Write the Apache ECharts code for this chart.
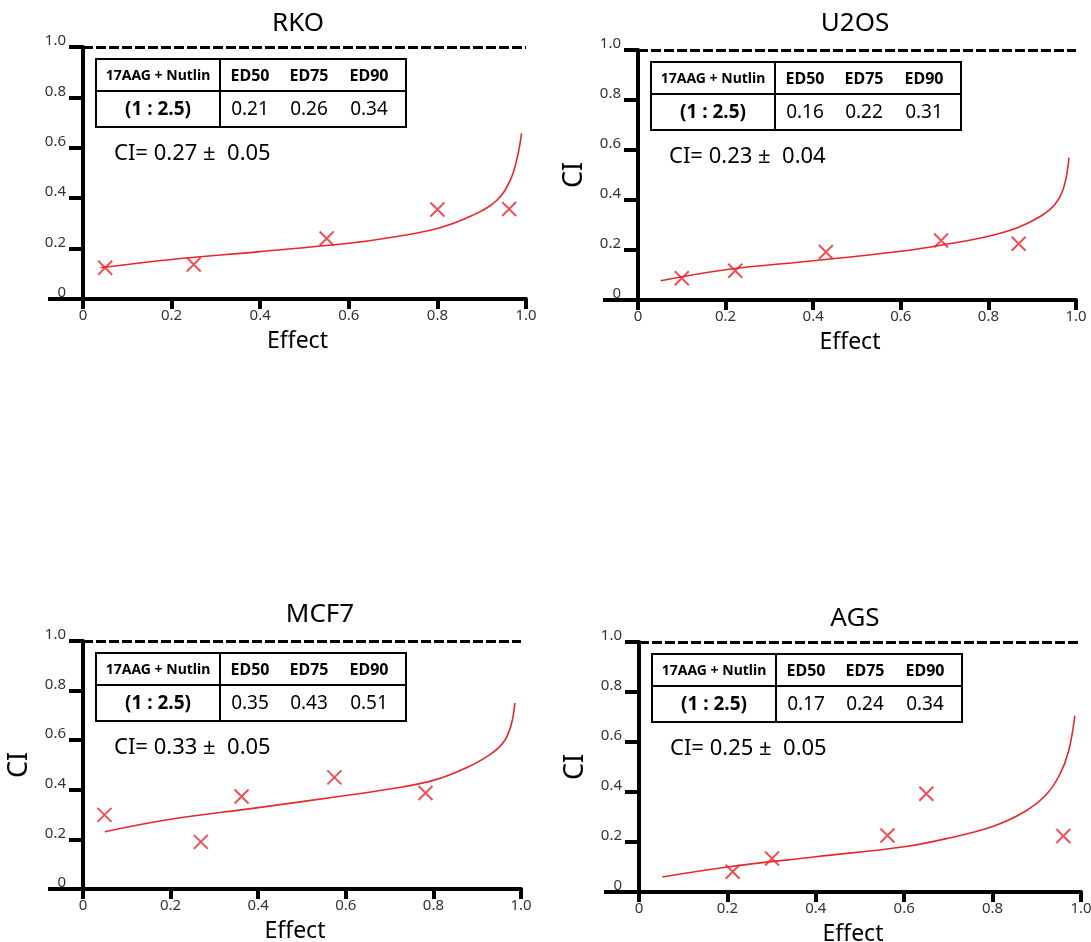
<!DOCTYPE html>
<html>
<head>
<meta charset="utf-8">
<script src="https://cdn.jsdelivr.net/npm/echarts@6/dist/echarts.min.js"></script>
<style>html,body{margin:0;padding:0;background:#fff}#c{width:1091px;height:942px}</style>
</head>
<body>
<div id="c"></div>
<script>
// ---------- data ----------
const panelNames = ['RKO', 'U2OS', 'MCF7', 'AGS'];
const showCILabel = [false, true, true, true];
const tableHeader = ['17AAG + Nutlin', 'ED50', 'ED75', 'ED90'];
const ratioLabel = '(1 : 2.5)';
const ed50 = ['0.21', '0.16', '0.35', '0.17'];
const ed75 = ['0.26', '0.22', '0.43', '0.24'];
const ed90 = ['0.34', '0.31', '0.51', '0.34'];
const ciMean = ['0.27', '0.23', '0.33', '0.25'];
const ciSd = ['0.05', '0.04', '0.05', '0.05'];
const xTicks = [0, 0.2, 0.4, 0.6, 0.8, 1.0];
const refCI = 1.0;

const rkoPtsX = [0.05, 0.25, 0.55, 0.80, 0.962];
const rkoPtsY = [0.124, 0.137, 0.24, 0.355, 0.357];
const rkoCurveX = [0.04, 0.2, 0.4, 0.6, 0.68, 0.8, 0.877, 0.933, 0.964, 0.98, 0.99];
const rkoCurveY = [0.124, 0.157, 0.188, 0.221, 0.24, 0.28, 0.33, 0.39, 0.47, 0.56, 0.657];

const u2osPtsX = [0.10, 0.222, 0.429, 0.692, 0.869];
const u2osPtsY = [0.087, 0.117, 0.192, 0.238, 0.225];
const u2osCurveX = [0.052, 0.2, 0.4, 0.6, 0.697, 0.8, 0.866, 0.92, 0.952, 0.972, 0.984];
const u2osCurveY = [0.077, 0.121, 0.157, 0.195, 0.221, 0.255, 0.289, 0.336, 0.383, 0.45, 0.57];

const mcf7PtsX = [0.049, 0.269, 0.362, 0.574, 0.782];
const mcf7PtsY = [0.299, 0.19, 0.373, 0.45, 0.387];
const mcf7CurveX = [0.05, 0.2, 0.4, 0.6, 0.7, 0.8, 0.874, 0.93, 0.962, 0.978, 0.986];
const mcf7CurveY = [0.231, 0.281, 0.328, 0.377, 0.403, 0.438, 0.488, 0.543, 0.597, 0.665, 0.75];

const agsPtsX = [0.212, 0.301, 0.562, 0.65, 0.96];
const agsPtsY = [0.081, 0.134, 0.226, 0.393, 0.224];
const agsCurveX = [0.053, 0.2, 0.4, 0.6, 0.699, 0.8, 0.873, 0.921, 0.952, 0.972, 0.986];
const agsCurveY = [0.06, 0.1, 0.141, 0.181, 0.215, 0.262, 0.322, 0.389, 0.47, 0.564, 0.705];

const ptsX = [rkoPtsX, u2osPtsX, mcf7PtsX, agsPtsX];
const ptsY = [rkoPtsY, u2osPtsY, mcf7PtsY, agsPtsY];
const curveX = [rkoCurveX, u2osCurveX, mcf7CurveX, agsCurveX];
const curveY = [rkoCurveY, u2osCurveY, mcf7CurveY, agsCurveY];

// ---------- layout ----------
const layout = [
  {x0: 83, x1: 526, top: 47, bottom: 299, titleX: 298, titleY: 24},
  {x0: 638, x1: 1076, top: 50, bottom: 300, titleX: 855, titleY: 24},
  {x0: 83, x1: 521, top: 641, bottom: 889, titleX: 320, titleY: 615},
  {x0: 639, x1: 1081, top: 642, bottom: 892, titleX: 855, titleY: 619}
];
const RED = '#e8262b';
const FAMILY = 'Noto Sans';
const FONT = '"Noto Sans", sans-serif';
const crossPath = 'path://M0,0 L20,20 M20,0 L0,20';

const zip = (a, b) => a.map((v, i) => [v, b[i]]);
const fmt = v => (v === 0 ? '0' : v.toFixed(1));

const grids = [], xAxes = [], yAxes = [], series = [], graphics = [];

layout.forEach((L, i) => {
  grids.push({left: L.x0, width: L.x1 - L.x0, top: L.top, height: L.bottom - L.top,
    containLabel: false, outerBoundsMode: 'none'});
  xAxes.push({
    type: 'value', gridIndex: i, min: 0, max: 1, interval: 0.2,
    axisLine: {show: true, onZero: false, lineStyle: {color: '#000', width: 4}},
    axisTick: {show: true, length: 10, lineStyle: {color: '#000', width: 4}},
    axisLabel: {show: true, margin: 9, color: '#333', fontSize: 15, fontFamily: FAMILY, formatter: fmt},
    splitLine: {show: false}
  });
  // main y axis
  yAxes.push({
    type: 'value', gridIndex: i, min: 0, max: 1, interval: 0.2,
    name: showCILabel[i] ? 'CI' : '', nameLocation: 'middle', nameGap: 50, nameRotate: 90,
    nameTextStyle: {fontSize: 27, color: '#000', fontFamily: FAMILY},
    axisLine: {show: true, onZero: false, lineStyle: {color: '#000', width: 4}},
    axisTick: {show: true, length: 14, lineStyle: {color: '#000', width: 4}},
    axisLabel: {show: true, margin: 17, color: '#333', fontSize: 15, fontFamily: FAMILY,
      verticalAlign: 'bottom', lineHeight: 12, formatter: fmt},
    splitLine: {show: false}
  });
  // helper y axis: long tick at 0 extends the x axis line to the left
  yAxes.push({
    type: 'value', gridIndex: i, min: 0, max: 1, position: 'left',
    axisLine: {show: false, onZero: false},
    axisTick: {show: true, customValues: [0], length: 35, lineStyle: {color: '#000', width: 4}},
    axisLabel: {show: false},
    splitLine: {show: false}
  });
  series.push({
    type: 'line', xAxisIndex: i, yAxisIndex: 2 * i, data: zip(curveX[i], curveY[i]),
    smooth: 0.4, showSymbol: false, symbol: 'none',
    lineStyle: {color: RED, width: 1.6},
    markLine: {
      silent: true, symbol: 'none', label: {show: false},
      lineStyle: {color: '#000', width: 3, type: [10, 3]},
      data: [[{coord: [0, refCI]}, {coord: [1, refCI]}]]
    },
    z: 3
  });
  series.push({
    type: 'scatter', xAxisIndex: i, yAxisIndex: 2 * i, data: zip(ptsX[i], ptsY[i]),
    symbol: crossPath, symbolSize: 14,
    itemStyle: {color: 'transparent', borderColor: RED, borderWidth: 2},
    z: 4
  });

  // title
  graphics.push({type: 'text', x: L.titleX, y: L.titleY,
    style: {text: panelNames[i], fill: '#000', font: '26px ' + FONT, align: 'center', verticalAlign: 'middle',
      textAlign: 'center', textVerticalAlign: 'middle'}});
  // Effect label
  graphics.push({type: 'text', x: (L.x0 + L.x1) / 2 - 7, y: L.bottom + 42,
    style: {text: 'Effect', fill: '#000', font: '23px ' + FONT, align: 'center', verticalAlign: 'middle',
      textAlign: 'center', textVerticalAlign: 'middle'}});

  // table
  const tx = L.x0 + 13, ty = L.top + 12, tw = 310, r1 = 32, r2 = 36, dv = 124;
  graphics.push({type: 'rect', shape: {x: tx, y: ty, width: tw, height: r1 + r2},
    style: {fill: 'none', stroke: '#000', lineWidth: 2}});
  graphics.push({type: 'line', shape: {x1: tx, y1: ty + r1, x2: tx + tw, y2: ty + r1},
    style: {stroke: '#000', lineWidth: 2}});
  graphics.push({type: 'line', shape: {x1: tx + dv, y1: ty, x2: tx + dv, y2: ty + r1 + r2},
    style: {stroke: '#000', lineWidth: 2}});
  const colX = [62, 154, 213, 273];
  const row1 = [tableHeader[0], tableHeader[1], tableHeader[2], tableHeader[3]];
  const row2 = [ratioLabel, ed50[i], ed75[i], ed90[i]];
  row1.forEach((t, k) => {
    graphics.push({type: 'text', x: tx + colX[k], y: ty + r1 / 2 + 1,
      style: {text: t, fill: '#000', font: 'bold ' + (k === 0 ? 14 : 16) + 'px ' + FONT,
        align: 'center', verticalAlign: 'middle', textAlign: 'center', textVerticalAlign: 'middle'}});
  });
  row2.forEach((t, k) => {
    graphics.push({type: 'text', x: tx + colX[k], y: ty + r1 + r2 / 2 + 1,
      style: {text: t, fill: '#000', font: (k === 0 ? 'bold 19px ' : '19px ') + FONT,
        align: 'center', verticalAlign: 'middle', textAlign: 'center', textVerticalAlign: 'middle'}});
  });
  // CI summary
  graphics.push({type: 'text', x: L.x0 + 31, y: L.top + 107,
    style: {text: 'CI= ' + ciMean[i] + ' \u00B1  ' + ciSd[i], fill: '#000', font: '22px ' + FONT,
      align: 'left', verticalAlign: 'middle', textAlign: 'left', textVerticalAlign: 'middle'}});
});

const chart = echarts.init(document.getElementById('c'), null, {renderer: 'canvas'});
chart.setOption({
  animation: false,
  backgroundColor: '#fff',
  grid: grids,
  xAxis: xAxes,
  yAxis: yAxes,
  series: series,
  graphic: {elements: graphics}
});
</script>
</body>
</html>
